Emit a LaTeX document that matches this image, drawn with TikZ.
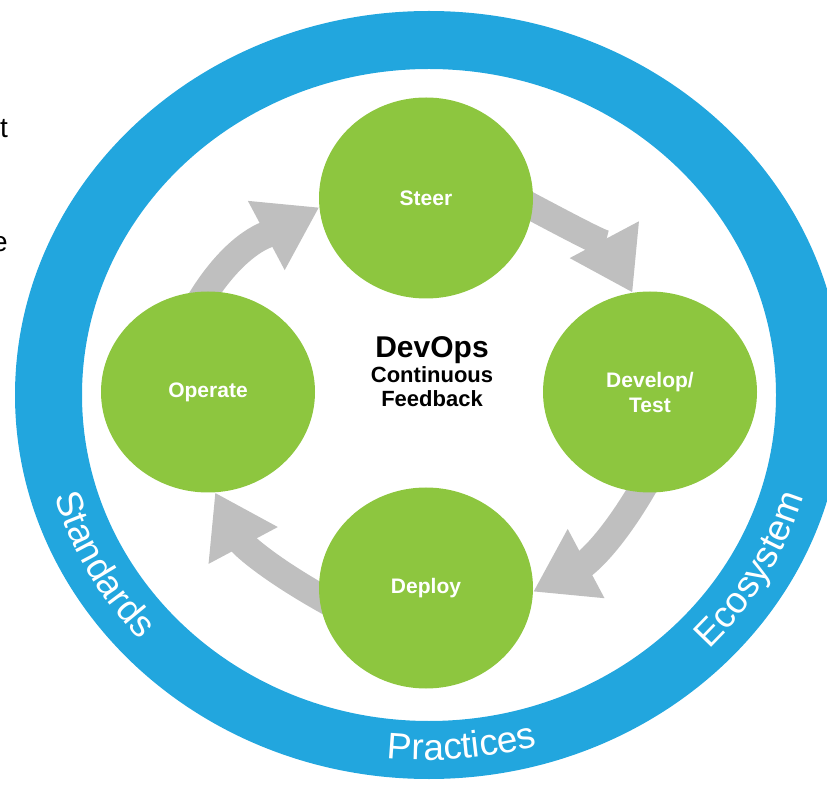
\documentclass[tikz,border=0pt]{standalone}
\usepackage{fontspec}
\setmainfont{Liberation Sans}
\usepackage{xcolor}
\usepackage{tikz}
\usetikzlibrary{calc}
\usetikzlibrary{shapes.geometric}
\usetikzlibrary{arrows.meta}
\usetikzlibrary{backgrounds}
\usetikzlibrary{decorations.text}

\definecolor{ringblue}{RGB}{34,166,222}
\definecolor{stagegreen}{RGB}{141,198,63}
\definecolor{flowgrey}{RGB}{191,191,191}
\newcommand{\stagefont}{\bfseries\fontsize{21}{25}\selectfont}
\newcommand{\bandfont}{\fontsize{37}{40}\selectfont}

\tikzset{
  stage/.style={ellipse, fill=stagegreen, minimum width=214pt, minimum height=201pt,
    inner sep=0pt, text=white, font=\stagefont, align=center},
  flow/.style={draw=flowgrey, line width=27pt, -{Triangle[length=60pt,width=74pt]},
    shorten <=-30pt},
  bandlabel/.style={decorate, decoration={text along path, text align=center, text color=white}},
}

\begin{document}
\begin{tikzpicture}[x=1pt,y=1pt]
            \useasboundingbox (0,0) rectangle (827,785);
            \clip (0,0) rectangle (827,785);

            % Cut-off letters on the left edge
            \node [anchor=base east, inner sep=0pt, font=\fontsize{28}{30}\selectfont] (cutt) at (8,647) {t};%
            \node [anchor=base east, inner sep=0pt, font=\fontsize{28}{30}\selectfont] (cute) at (8,533) {e};%

            % Drawing the blue ring
            \coordinate (ringc) at (429,390);
            \fill [ringblue, even odd rule] (ringc) ellipse [x radius=414pt, y radius=384pt]
                                            (ringc) ellipse [x radius=347pt, y radius=326pt];%

            % Ring labels
            \path [bandlabel, decoration={text={|\bandfont|Standards}}]
                ($(ringc)+(189:390pt and 365pt)$) arc [start angle=189, end angle=229, x radius=390pt, y radius=365pt];%
            \path [bandlabel, decoration={text={|\bandfont|Practices}}]
                ($(ringc)+(253:390pt and 365pt)$) arc [start angle=253, end angle=297, x radius=390pt, y radius=365pt];%
            \path [bandlabel, decoration={text={|\bandfont|Ecosystem}}]
                ($(ringc)+(308:390pt and 365pt)$) arc [start angle=308, end angle=352, x radius=390pt, y radius=365pt];%

            % Marking the four stages
            \node [stage] (steer)   at (426,587) {Steer};%
            \node [stage] (develop) at (650,393) {Develop/\\Test};%
            \node [stage] (deploy)  at (426,197) {Deploy};%
            \node [stage] (operate) at (208,393) {Operate};%

            % Drawing the feedback arrows behind the stages
            \begin{scope}[on background layer]
            \draw [flow] (steer.-5)    to [out=-28, in=118]  (develop.100);%
            \draw [flow] (develop.265) to [out=-118, in=28]  (deploy.-2);%
            \draw [flow] (deploy.185)  to [out=152, in=-62]  (operate.274);%
            \draw [flow] (operate.92)  to [out=62, in=-152]  (steer.185);%
            \end{scope}

            % Centre text
            \node [align=center, font=\bfseries\fontsize{22}{24.5}\selectfont] (hub) at (432,413)
                {{\fontsize{30}{30}\selectfont DevOps}\\Continuous\\Feedback};%
\end{tikzpicture}
\end{document}
